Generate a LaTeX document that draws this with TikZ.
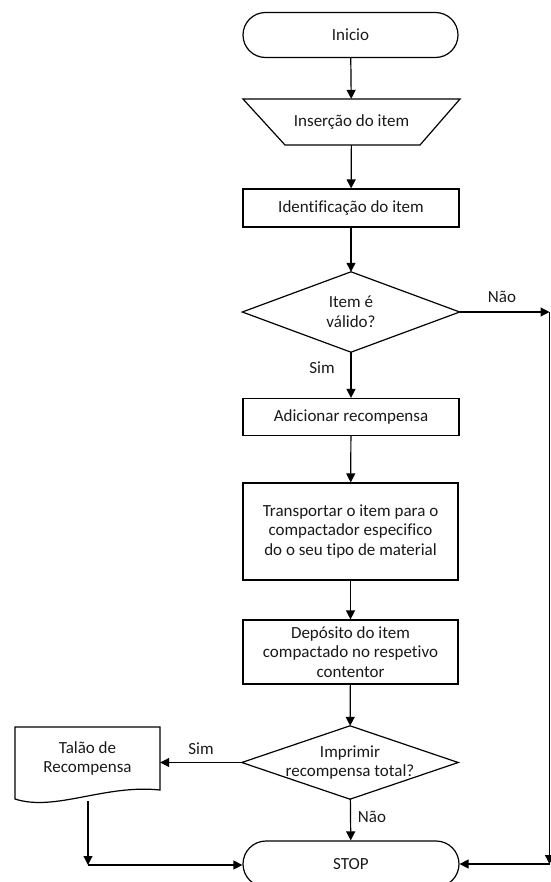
\documentclass[tikz,border=0pt]{standalone}
\usepackage{fontspec}
\setmainfont[Ligatures=NoCommon]{Carlito}
\usetikzlibrary{arrows.meta,shapes.geometric,shapes.misc}
\tikzset{
  txt/.style={align=center, inner sep=0pt,
    font=\fontsize{17bp}{19.5bp}\selectfont, text=black!90},
  base/.style={txt, line width=1.2bp, draw=black},
  procbox/.style={base, rectangle},
  term/.style={base, rounded rectangle, rounded rectangle arc length=180},
  plain/.style={txt},
  lbl/.style={txt},
  arr/.style={-{Triangle[length=9bp,width=9bp]}, line width=1.2bp},
  ln/.style={line width=1.2bp}
}
\begin{document}
\begin{tikzpicture}[x=1bp,y=-1bp]
\useasboundingbox (0,0) rectangle (551,882);
% nodes
\node[term, minimum width=215bp, minimum height=45bp] (inicio) at (350.5,35) {Inicio};
\node[plain, minimum width=217bp, minimum height=46bp] (ins) at (351.5,122) {Inserção do item};
\draw[ln] (243,99) -- (460,99) -- (420,145) -- (285,145) -- cycle;
\node[procbox, minimum width=216bp, minimum height=38bp] (ident) at (351,208) {Identificação do item};
\node[plain, minimum width=217bp, minimum height=80bp] (d1) at (351,312) {Item é\\válido?};
\draw[ln] (d1.north) -- (d1.east) -- (d1.south) -- (d1.west) -- cycle;
\node[procbox, minimum width=216bp, minimum height=37bp] (add) at (351,417) {Adicionar recompensa};
\node[procbox, minimum width=215bp, minimum height=97bp] (transp) at (350.5,531.5) {Transportar o item para o\\compactador especifico\\do o seu tipo de material};
\node[procbox, minimum width=215bp, minimum height=64bp] (dep) at (350.5,652) {Depósito do item\\compactado no respetivo\\contentor};
\node[plain, minimum width=216bp, minimum height=73bp] (d2) at (350,762.5) {Imprimir\\recompensa total?};
\draw[ln] (d2.north) -- (d2.east) -- (d2.south) -- (d2.west) -- cycle;
\node[term, minimum width=216bp, minimum height=46bp] (stop) at (351,864) {STOP};
\node[plain, minimum width=145bp, minimum height=63bp] (talao) at (87.5,758.5) {Talão de\\Recompensa};
\draw[ln] (15,727) -- (160,727) -- (160,790)
  .. controls (105,784) and (55,812) .. (15,799) -- cycle;
% labels
\node[lbl] (sim1) at (322,368) {Sim};
\node[lbl] (nao1) at (502,297) {Não};
\node[lbl] (sim2) at (201,749) {Sim};
\node[lbl] (nao2) at (372,817) {Não};
% coordinates
\coordinate (rtop) at (549.5,312);
\coordinate (rbot) at (549.5,864);
\coordinate (tb) at (88,801);
\coordinate (tc) at (88,865);
% connectors
\draw[arr] (inicio) -- (ins);
\draw[arr] (ins) -- (ident);
\draw[arr] (ident) -- (d1);
\draw[arr] (d1) -- (add);
\draw[arr] (add) -- (transp);
\draw[arr] (transp) -- (dep);
\draw[arr] (dep) -- (d2);
\draw[arr] (d2) -- (stop);
\draw[arr] (d2.west) -- (talao.east |- d2.west);
\draw[arr] (d1.east) -- (rtop);
\draw[arr] (rtop) -- (rbot);
\draw[arr] (rbot) -- (stop.east);
\draw[arr] (tb) -- (tc);
\draw[arr] (tc) -- (stop.west |- tc);
\end{tikzpicture}
\end{document}
